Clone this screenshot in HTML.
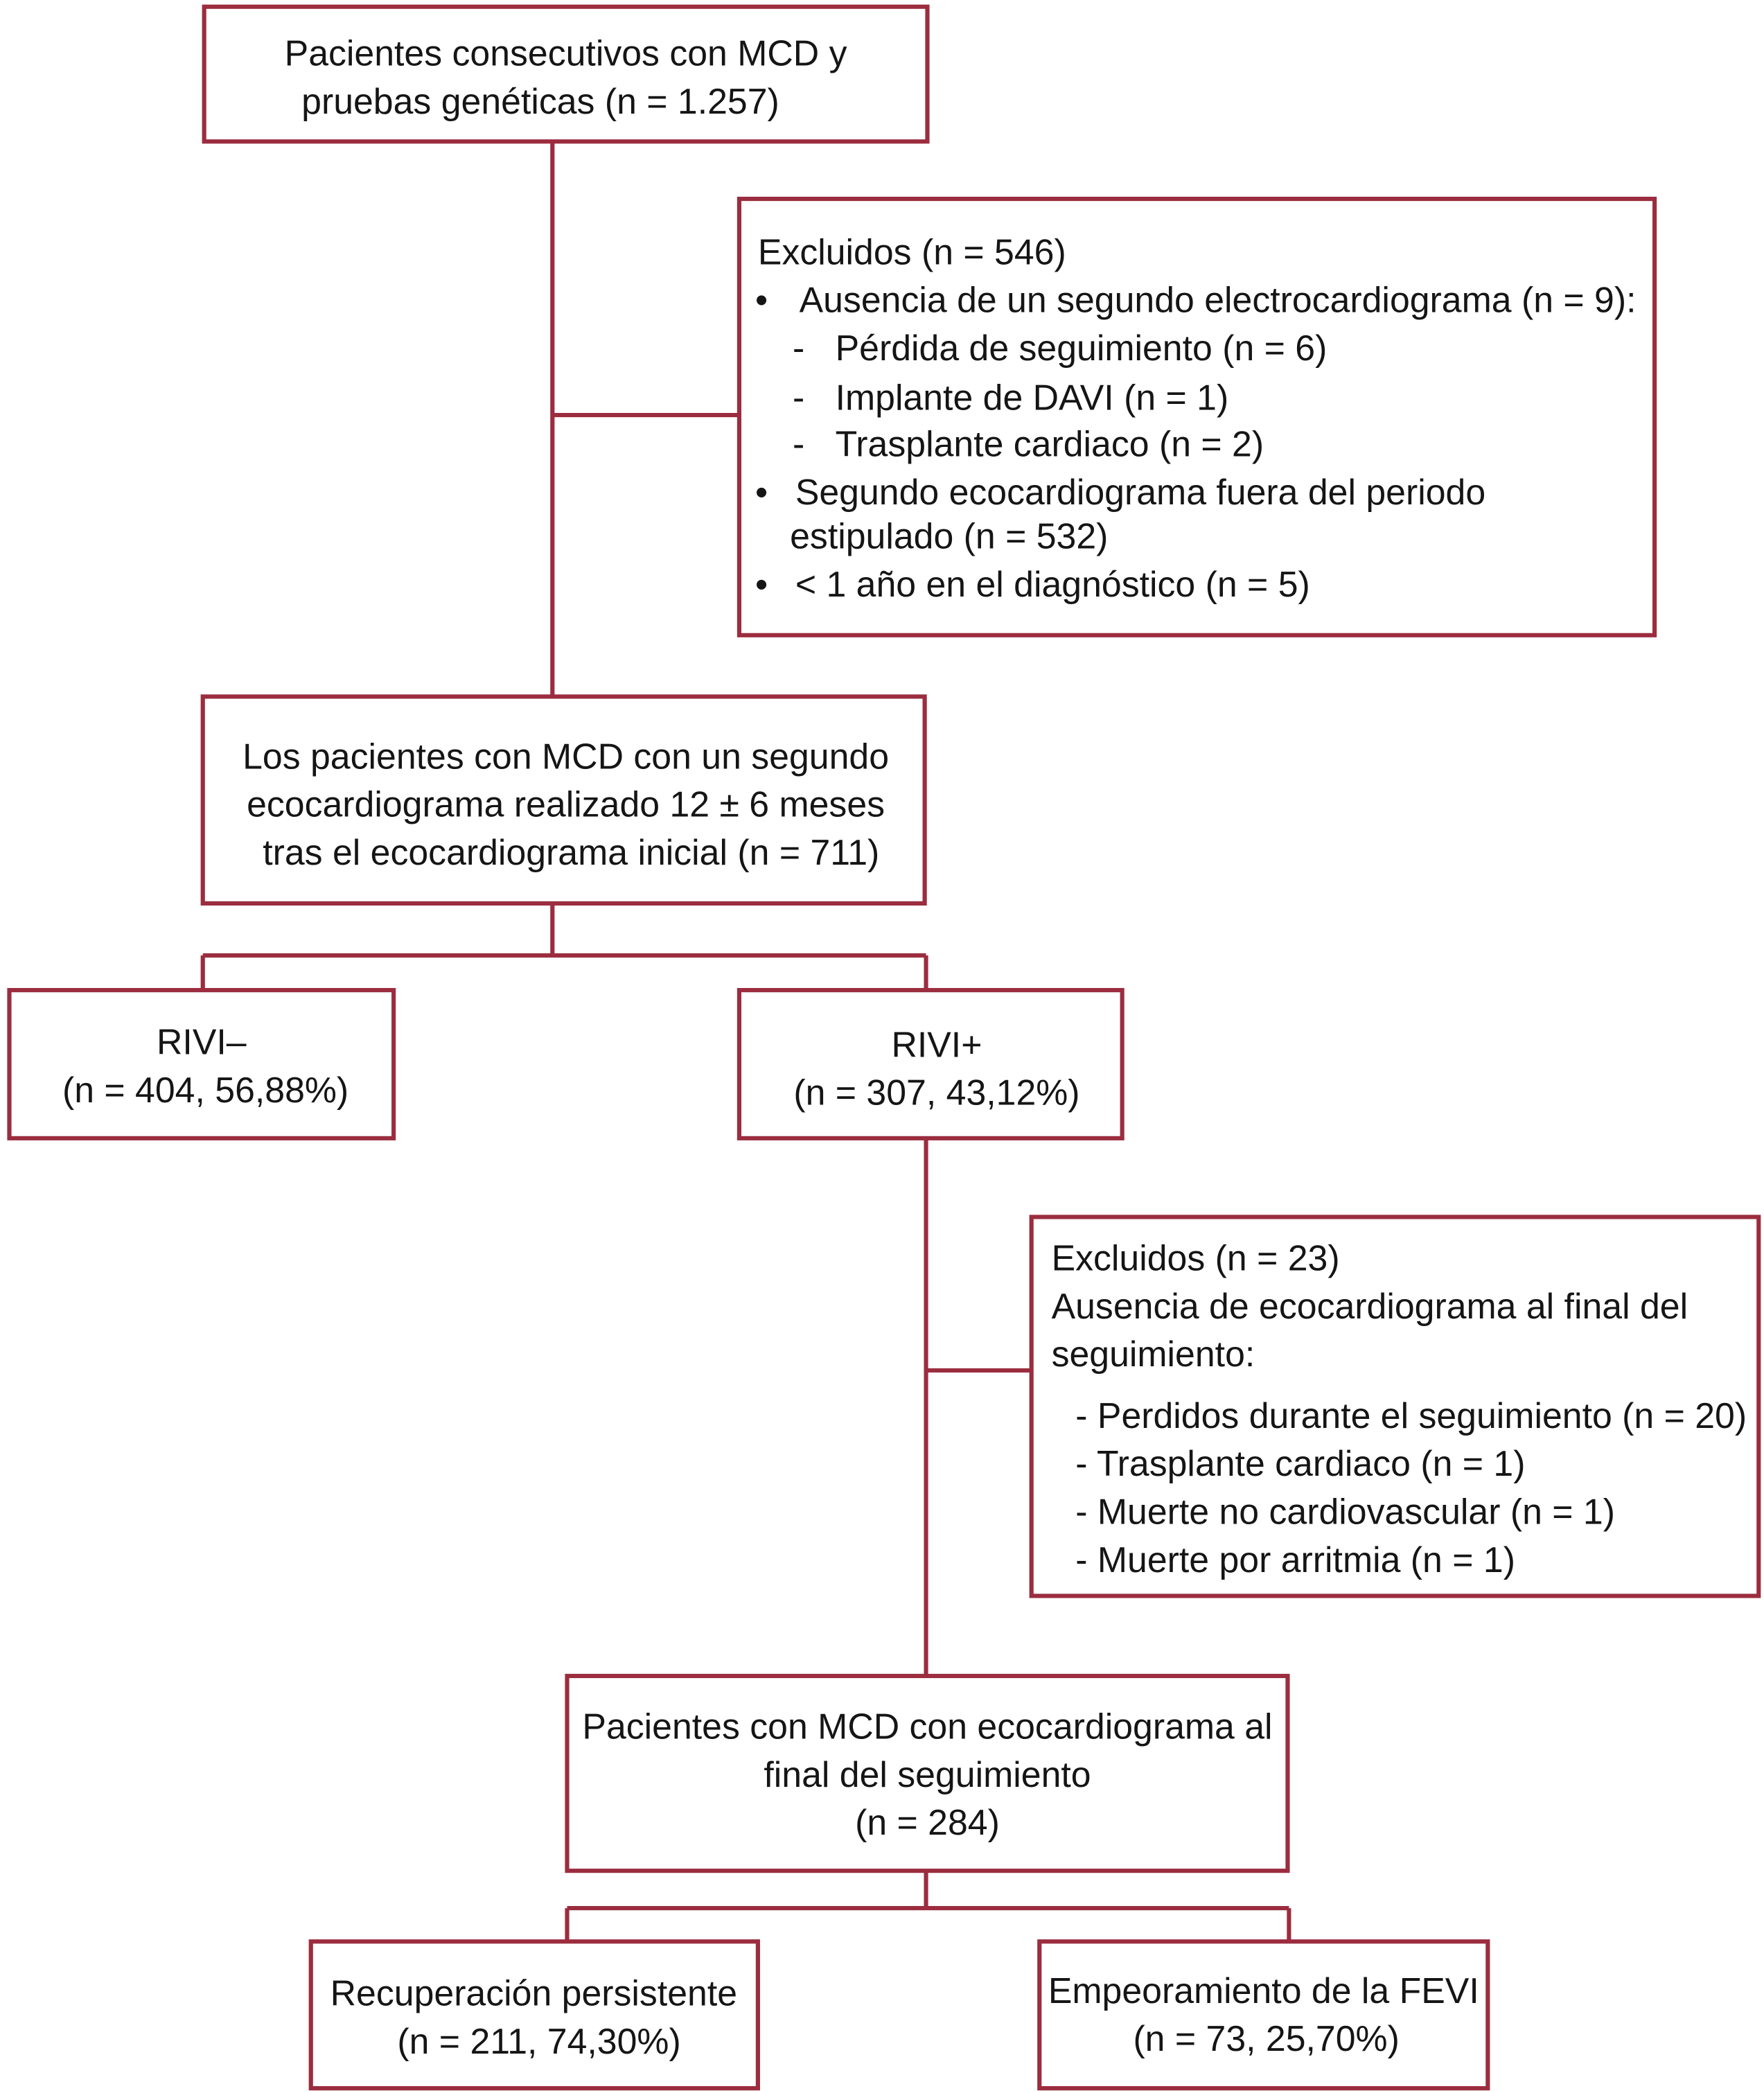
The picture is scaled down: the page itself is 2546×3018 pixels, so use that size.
<!DOCTYPE html>
<html><head><meta charset="utf-8"><style>
html,body{margin:0;padding:0;background:#fff;}
svg{display:block}
text{font-family:"Liberation Sans",Arial,sans-serif;font-size:26.9px;fill:#151515}
.b{fill:none;stroke:#9b2d3f;stroke-width:3.2}
.l{stroke:#9b2d3f;stroke-width:3.2;fill:none}
.c{text-anchor:middle}
</style></head><body>
<svg width="2546" height="3018" viewBox="0 0 1322 1567" xmlns="http://www.w3.org/2000/svg">
<rect x="0" y="0" width="1322" height="1567" fill="#fff"/>
<path class="l" d="M414 106V522 M414 311H554 M414 677V716 M152 716H694 M152 716V742 M694 716V742 M694 853V1256 M694 1027H773 M694 1402V1430 M425 1430H966 M425 1430V1455 M966 1430V1455"/>
<rect class="b" x="153" y="5" width="542" height="101"/>
<text class="c" x="424" y="49">Pacientes consecutivos con MCD y</text>
<text class="c" x="405" y="85">pruebas genéticas (n = 1.257)</text>

<rect class="b" x="554" y="149" width="686" height="327"/>
<text x="568" y="198">Excluidos (n = 546)</text>
<text x="566" y="234">•</text><text x="599" y="234">Ausencia de un segundo electrocardiograma (n = 9):</text>
<text x="594" y="270">-</text><text x="626" y="270">Pérdida de seguimiento (n = 6)</text>
<text x="594" y="307">-</text><text x="626" y="307">Implante de DAVI (n = 1)</text>
<text x="594" y="342">-</text><text x="626" y="342">Trasplante cardiaco (n = 2)</text>
<text x="566" y="378">•</text><text x="596" y="378">Segundo ecocardiograma fuera del periodo</text>
<text x="592" y="411">estipulado (n = 532)</text>
<text x="566" y="447">•</text><text x="596" y="447">&lt; 1 año en el diagnóstico (n = 5)</text>

<rect class="b" x="152" y="522" width="541" height="155"/>
<text class="c" x="424" y="576">Los pacientes con MCD con un segundo</text>
<text class="c" x="424" y="612">ecocardiograma realizado 12 ± 6 meses</text>
<text class="c" x="428" y="648">tras el ecocardiograma inicial (n = 711)</text>

<rect class="b" x="7" y="742" width="288" height="111"/>
<text class="c" x="151" y="790">RIVI–</text>
<text class="c" x="154" y="826">(n = 404, 56,88%)</text>

<rect class="b" x="554" y="742" width="287" height="111"/>
<text class="c" x="702" y="792">RIVI+</text>
<text class="c" x="702" y="828">(n = 307, 43,12%)</text>

<rect class="b" x="773" y="912" width="545" height="284"/>
<text x="788" y="952">Excluidos (n = 23)</text>
<text x="788" y="988">Ausencia de ecocardiograma al final del</text>
<text x="788" y="1024">seguimiento:</text>
<text x="806" y="1070">- Perdidos durante el seguimiento (n = 20)</text>
<text x="806" y="1106">- Trasplante cardiaco (n = 1)</text>
<text x="806" y="1142">- Muerte no cardiovascular (n = 1)</text>
<text x="806" y="1178">- Muerte por arritmia (n = 1)</text>

<rect class="b" x="425" y="1256" width="540" height="146"/>
<text class="c" x="695" y="1303">Pacientes con MCD con ecocardiograma al</text>
<text class="c" x="695" y="1339">final del seguimiento</text>
<text class="c" x="695" y="1375">(n = 284)</text>

<rect class="b" x="233" y="1455" width="335" height="110"/>
<text class="c" x="400" y="1503">Recuperación persistente</text>
<text class="c" x="404" y="1539">(n = 211, 74,30%)</text>

<rect class="b" x="779" y="1455" width="336" height="110"/>
<text class="c" x="947" y="1501">Empeoramiento de la FEVI</text>
<text class="c" x="949" y="1537">(n = 73, 25,70%)</text>
</svg>
</body></html>
